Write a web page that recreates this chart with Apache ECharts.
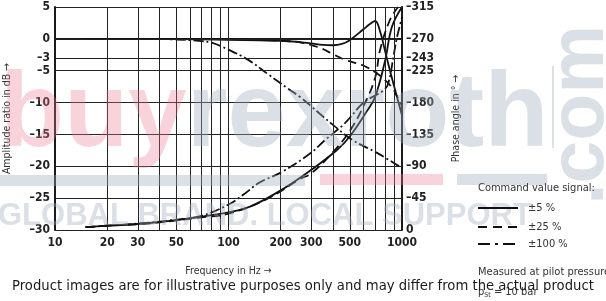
<!DOCTYPE html>
<html><head><meta charset="utf-8">
<script src="https://cdn.jsdelivr.net/npm/echarts@6/dist/echarts.min.js"></script>
<style>html,body{margin:0;padding:0;background:#fff}#c{width:606px;height:301px}</style>
</head><body><div id="c"></div>
<script>
// ---- data ----
const freqTicks = [10, 20, 30, 50, 100, 200, 300, 500, 1000];
const freqGrid = [20, 30, 40, 50, 60, 70, 80, 90, 100, 200, 300, 400, 500, 600, 700, 800, 900];
const dbTicks = [-30, -25, -20, -15, -10, -5, -3, 0, 5];
const phaseTicks = [-315, -270, -243, -225, -180, -135, -90, -45, 0];

// amplitude ratio (dB)
const amp5F = [15, 30, 50, 100, 150, 200, 258, 300, 350, 400, 450, 500, 600, 650, 700, 747, 800, 853, 912, 1000];
const amp5V = [0, 0, -0.05, -0.15, -0.25, -0.3, -0.5, -0.7, -0.95, -1.0, -0.8, -0.2, 1.5, 2.3, 2.8, 1.2, -2, -5, -8, -12];
const amp25F = [15, 30, 50, 100, 150, 200, 258, 336, 400, 469, 589, 698, 778, 880, 935, 1000];
const amp25V = [0, 0, 0, -0.05, -0.15, -0.3, -0.55, -1.4, -2.4, -3.3, -4.1, -5.2, -6.2, -7.7, -9, -10.5];
const amp100F = [15, 30, 50, 70, 80, 100, 130, 170, 220, 258, 300, 351, 400, 520, 718, 1000];
const amp100V = [0, 0, -0.1, -0.35, -0.6, -1.7, -3.3, -5.6, -7.8, -9.1, -10.6, -12.2, -13.5, -15.9, -17.9, -20.3];

// phase angle (deg)
const ph5F = [15, 20, 30, 50, 70, 100, 133, 200, 300, 422, 500, 628, 700, 800, 875, 1000];
const ph5V = [-4, -6, -8.5, -14, -19, -25, -33, -56, -85, -113, -132, -168, -188, -240, -287, -315];
const ph25F = [15, 20, 30, 50, 70, 100, 167, 258, 300, 400, 500, 600, 700, 747, 853, 950];
const ph25V = [-4, -6, -8, -13.5, -18, -23, -44, -72, -80, -110, -140, -175, -215, -254, -297, -315];
const ph100F = [15, 20, 30, 50, 70, 100, 122, 151, 203, 295, 360, 469, 600, 700, 770, 830, 900, 935, 1000];
const ph100V = [-4, -6, -9, -14.5, -20, -36, -50, -67, -82, -108, -127, -151, -180, -190, -196, -206, -250, -272, -300];

const legendLabels = ['±5 %', '±25 %', '±100 %'];

// ---- chart ----
const pair = (f, v) => f.map((x, i) => [x, v[i]]);
const dash = t => String(t).replace('-', '–');
const COND = '"DejaVu Sans Condensed", "Liberation Sans", sans-serif';
const tickFont = {fontFamily: COND, fontWeight: 'bold', fontSize: 12, color: '#222'};
const nameFont = {fontFamily: COND, fontSize: 10.5, color: '#333'};
const legFont = '11px ' + COND;
const styles = [
  {type: 'solid'},
  {type: [9, 5]},
  {type: [10, 3, 2, 3]}
];
const chart = echarts.init(document.getElementById('c'), null, {renderer: 'canvas'});

const gridMark = {
  symbol: 'none', silent: true, animation: false, label: {show: false},
  lineStyle: {color: '#222', width: 1, type: 'solid'},
  data: freqGrid.map(f => ({xAxis: f})).concat(dbTicks.map(d => ({yAxis: d})))
};

function mk(name, f, v, st, yIdx, withGrid) {
  const s = {
    name, type: 'line', xAxisIndex: 0, yAxisIndex: yIdx, data: pair(f, v),
    smooth: 0.4, showSymbol: false, symbol: 'none',
    lineStyle: {color: '#111', width: 1.8, type: st.type},
    z: 3, animation: false
  };
  if (withGrid) s.markLine = gridMark;
  return s;
}

const WM_GRAY = 'rgba(160,172,190,0.38)';
const WM_PINK = 'rgba(236,120,145,0.33)';

const option = {
  animation: false,
  backgroundColor: '#fff',
  grid: {left: 55, right: 204, top: 7, bottom: 71, show: false, containLabel: false, outerBoundsMode: 'none'},
  xAxis: [{
    type: 'log', logBase: 10, min: 10, max: 1000,
    name: 'Frequency in Hz →', nameLocation: 'middle', nameGap: 36, nameTextStyle: nameFont,
    axisLine: {show: true, lineStyle: {color: '#1a1a1a', width: 2}},
    axisTick: {show: false},
    axisLabel: Object.assign({margin: 7, customValues: freqTicks, formatter: v => String(v), showMinLabel: true, showMaxLabel: true}, tickFont),
    splitLine: {show: false}
  }],
  yAxis: [{
    type: 'value', min: -30, max: 5, position: 'left',
    name: 'Amplitude ratio in dB →', nameLocation: 'middle', nameGap: 42, nameRotate: 90, nameTextStyle: nameFont,
    axisLine: {show: true, lineStyle: {color: '#1a1a1a', width: 2}},
    axisTick: {show: false},
    axisLabel: Object.assign({margin: 5, customValues: dbTicks, formatter: dash}, tickFont),
    splitLine: {show: false}
  }, {
    type: 'value', min: -315, max: 0, inverse: true, position: 'right',
    name: 'Phase angle in ° →', nameLocation: 'middle', nameGap: 49, nameRotate: 90, nameTextStyle: nameFont,
    axisLine: {show: true, lineStyle: {color: '#1a1a1a', width: 2}},
    axisTick: {show: false},
    axisLabel: Object.assign({margin: 4, customValues: phaseTicks, formatter: dash}, tickFont),
    splitLine: {show: false}
  }],
  series: [
    mk(legendLabels[0], amp5F, amp5V, styles[0], 0, true),
    mk(legendLabels[1], amp25F, amp25V, styles[1], 0, false),
    mk(legendLabels[2], amp100F, amp100V, styles[2], 0, false),
    mk(legendLabels[0], ph5F, ph5V, styles[0], 1, false),
    mk(legendLabels[1], ph25F, ph25V, styles[1], 1, false),
    mk(legendLabels[2], ph100F, ph100V, styles[2], 1, false)
  ],
  graphic: [
    // watermark
    {type: 'rect', z: 100, silent: true, shape: {x: 0, y: 175, width: 305, height: 11}, style: {fill: WM_GRAY}},
    {type: 'rect', z: 100, silent: true, shape: {x: 320, y: 174, width: 123, height: 11}, style: {fill: WM_PINK}},
    {type: 'rect', z: 100, silent: true, shape: {x: 457, y: 174, width: 90, height: 11}, style: {fill: WM_GRAY}},
    {type: 'text', z: 100, silent: true, x: 0, y: 170, style: {
      text: '{a|buy}{b|rexroth}', verticalAlign: 'bottom',
      rich: {
        a: {fontFamily: 'Liberation Sans', fontWeight: 'bold', fontSize: 105, fill: WM_PINK},
        b: {fontFamily: 'Liberation Sans', fontWeight: 'bold', fontSize: 105, fill: WM_GRAY}
      }}},
    {type: 'rect', z: 100, silent: true, shape: {x: 552, y: 66, width: 2, height: 82}, style: {fill: WM_GRAY}},
    {type: 'text', z: 100, silent: true, x: 582, y: 115, rotation: Math.PI / 2, style: {
      text: '.com', align: 'center', verticalAlign: 'middle',
      fontFamily: 'Liberation Sans', fontWeight: 'bold', fontSize: 77, fill: WM_GRAY}},
    {type: 'text', z: 100, silent: true, x: -2, y: 216, style: {
      text: 'GLOBAL BRAND. LOCAL SUPPORT', verticalAlign: 'middle',
      fontFamily: 'Liberation Sans', fontWeight: 'bold', fontSize: 31, fill: WM_GRAY}},
    // legend
    {type: 'text', z: 110, x: 478, y: 188, style: {text: 'Command value signal:', verticalAlign: 'middle', font: legFont, fill: '#333'}},
    {type: 'line', z: 110, shape: {x1: 478, y1: 208, x2: 518, y2: 208}, style: {stroke: '#111', lineWidth: 2}},
    {type: 'line', z: 110, shape: {x1: 478, y1: 227, x2: 518, y2: 227}, style: {stroke: '#111', lineWidth: 2, lineDash: [9, 6]}},
    {type: 'line', z: 110, shape: {x1: 478, y1: 244, x2: 518, y2: 244}, style: {stroke: '#111', lineWidth: 2, lineDash: [12, 5, 3, 5]}},
    {type: 'text', z: 110, x: 528, y: 208, style: {text: legendLabels[0], verticalAlign: 'middle', font: legFont, fill: '#333'}},
    {type: 'text', z: 110, x: 528, y: 227, style: {text: legendLabels[1], verticalAlign: 'middle', font: legFont, fill: '#333'}},
    {type: 'text', z: 110, x: 528, y: 244, style: {text: legendLabels[2], verticalAlign: 'middle', font: legFont, fill: '#333'}},
    {type: 'text', z: 110, x: 478, y: 272, style: {text: 'Measured at pilot pressure', verticalAlign: 'middle', font: legFont, fill: '#333'}},
    {type: 'text', z: 110, x: 478, y: 292, style: {
      text: '{p|p}{s|St}{p| = 10 bar}', verticalAlign: 'middle',
      rich: {p: {font: legFont, fill: '#333'}, s: {font: '7px ' + COND, fill: '#333', padding: [6, 0, 0, 0]}}}},
    // disclaimer
    {type: 'text', z: 120, x: 12, y: 287, style: {
      text: 'Product images are for illustrative purposes only and may differ from the actual product',
      verticalAlign: 'middle', font: '13.2px "DejaVu Sans"', fill: '#1a1a1a'}}
  ]
};
chart.setOption(option);
</script></body></html>
